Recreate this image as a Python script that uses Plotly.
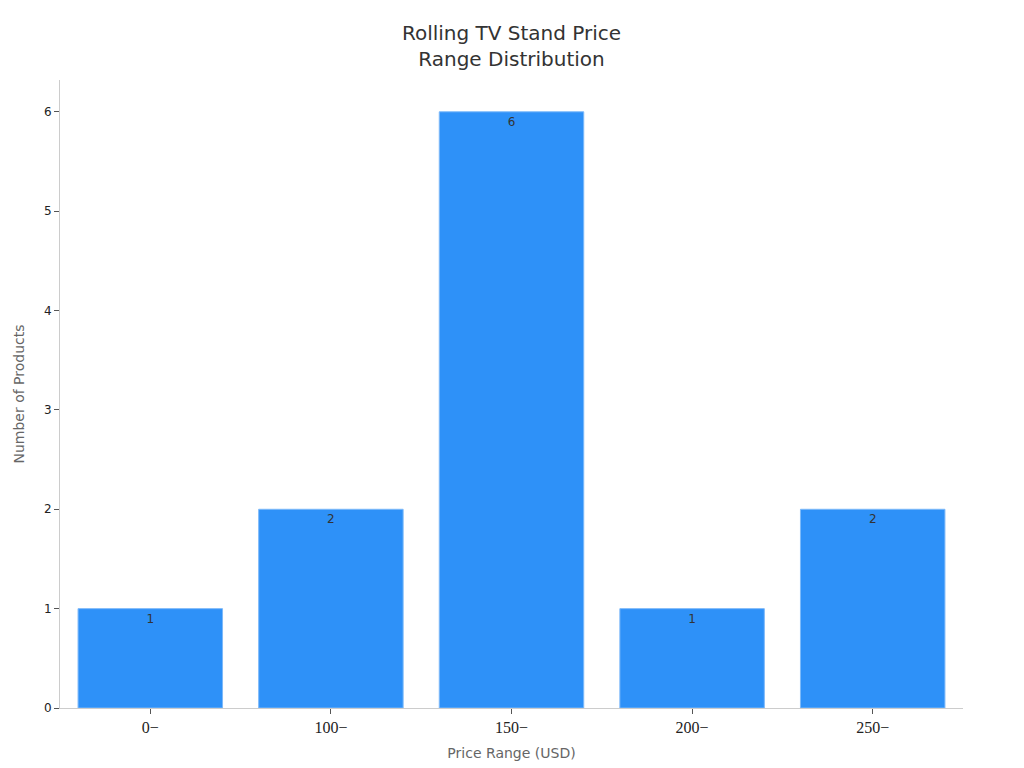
import plotly.graph_objects as go

price_ranges = ["0−", "100−", "150−", "200−", "250−"]
product_counts = [1, 2, 6, 1, 2]

fig = go.Figure()
fig.add_trace(
    go.Bar(
        x=price_ranges,
        y=product_counts,
        text=product_counts,
        textposition="inside",
        insidetextanchor="end",
        textfont=dict(family="DejaVu Sans", size=12, color="#333333"),
        marker=dict(color="#2E91F8", line=dict(color="#7DB9F9", width=1)),
    )
)

fig.update_layout(
    width=1024,
    height=768,
    title=dict(
        text="Rolling TV Stand Price<br>Range Distribution",
        xref="paper",
        x=0.5,
        xanchor="center",
        yref="container",
        y=0.958,
        yanchor="top",
        font=dict(family="DejaVu Sans", size=20, color="#333333"),
    ),
    margin=dict(l=52, r=69, t=72, b=68),
    plot_bgcolor="white",
    paper_bgcolor="white",
    bargap=0.2,
    showlegend=False,
)
fig.update_xaxes(
    title=dict(text="Price Range (USD)", font=dict(family="DejaVu Sans", size=14, color="#666666"), standoff=12),
    tickfont=dict(family="Liberation Serif", size=16, color="#222222"),
    showline=True,
    linecolor="#CCCCCC",
    ticks="outside",
    ticklen=5,
    tickcolor="#555555",
    showgrid=False,
    automargin=False,
)
fig.update_yaxes(
    title=dict(text="Number of Products", font=dict(family="DejaVu Sans", size=14, color="#666666"), standoff=16),
    tickfont=dict(family="DejaVu Sans", size=12, color="#222222"),
    range=[0, 6.32],
    dtick=1,
    showline=True,
    linecolor="#CCCCCC",
    ticks="outside",
    ticklen=5,
    tickcolor="#555555",
    showgrid=False,
    zeroline=False,
    automargin=False,
)

fig.write_html("out.html")
